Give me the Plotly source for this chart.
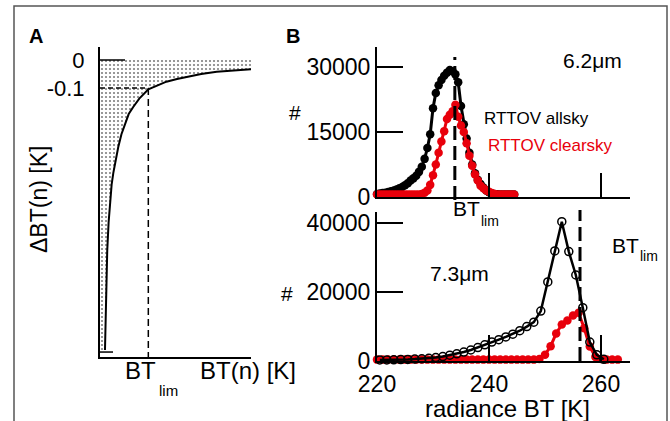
import plotly.graph_objects as go

W, H = 670, 421
FONT = "Liberation Sans, Arial, Helvetica, sans-serif"
RED = "#e8000b"

# ---------------- Panel A (schematic) ----------------
bt_a = [0.033, 0.040, 0.048, 0.057, 0.066, 0.077, 0.088, 0.104, 0.121, 0.142, 0.166, 0.19, 0.22, 0.26, 0.32, 0.38, 0.44, 0.51, 0.574, 0.67, 0.773, 0.88, 1.0]
dbt_a = [-1.036, -0.857, -0.679, -0.58, -0.50, -0.445, -0.404, -0.355, -0.311, -0.265, -0.225, -0.193, -0.168, -0.138, -0.105, -0.09, -0.0775, -0.068, -0.06, -0.05, -0.042, -0.037, -0.033]
bt_lim_a = 0.32
dbt_lim_a = -0.1

# ---------------- Panel B top: 6.2 um ----------------
x_top = [220 + 0.5 * i for i in range(50)]
allsky_62 = [700, 800, 900, 1000, 1150, 1300, 1500, 1750, 2000, 2300, 2700, 3200,
             3800, 4300, 4900, 5800, 7000, 8800, 11300, 14500, 20500, 24000, 25800, 27000,
             28000, 28700, 29300, 29000, 28300, 26500, 21000, 16800, 13500, 10200, 7500, 5500,
             4000, 3000, 2200, 1500, 1100, 800, 700, 650, 600, 600, 600, 600,
             600, 600]
clearsky_62 = [600] * 16 + [700, 1000, 1500, 2800, 5000, 7500, 10200, 12800, 15200, 18000,
                            19000, 19800, 21300, 18500, 16500, 15000, 12400, 9500, 7200, 5200,
                            3800, 2600, 2000, 1500, 1200, 900, 700] + [600] * 7
btlim_62 = 233.9

# ---------------- Panel B bottom: 7.3 um ----------------
x_bot_all = [220.5 + 1.25 * i for i in range(33)]
allsky_73 = [300, 300, 350, 400, 450, 550, 650, 800, 1000, 1300,
             1700, 2100, 2600, 3200, 3900, 4700, 5500, 6200, 7000, 7800,
             8800, 10000, 11300, 14500, 23000, 32000, 40500, 31800, 25000, 15500,
             5500, 1800, 500]
x_bot_clr = [220 + i for i in range(44)]
clearsky_73 = [400] * 29 + [600, 1800, 4300, 8000, 10600, 11800, 13200, 14000, 9500, 4200,
                            1200, 600, 400, 400, 400]
btlim_73 = 256.25


def px(x):
    return x / W


def py(y):
    return 1 - y / H


fig = go.Figure()

# Panel A stipple region
poly_x = [0, 1] + bt_a[::-1] + [0, 0]
poly_y = [0, 0] + dbt_a[::-1] + [dbt_a[0], 0]
fig.add_trace(go.Scatter(x=poly_x, y=poly_y, xaxis="x", yaxis="y", mode="lines",
                         line=dict(width=0, color="rgba(0,0,0,0)"), fill="toself",
                         fillcolor="white",
                         fillpattern=dict(shape=".", size=4, solidity=0.22, fgcolor="black", bgcolor="white"),
                         hoverinfo="skip", showlegend=False))
fig.add_trace(go.Scatter(x=bt_a, y=dbt_a, xaxis="x", yaxis="y", mode="lines",
                         line=dict(color="black", width=2), showlegend=False))

# Panel B top
fig.add_trace(go.Scatter(x=x_top, y=allsky_62, xaxis="x2", yaxis="y2", mode="lines+markers",
                         line=dict(color="black", width=3), marker=dict(color="black", size=8.5),
                         cliponaxis=False, showlegend=False))
fig.add_trace(go.Scatter(x=x_top, y=clearsky_62, xaxis="x2", yaxis="y2", mode="lines+markers",
                         line=dict(color=RED, width=3), marker=dict(color=RED, size=8.5),
                         cliponaxis=False, showlegend=False))

# Panel B bottom
fig.add_trace(go.Scatter(x=x_bot_clr, y=clearsky_73, xaxis="x3", yaxis="y3", mode="lines+markers",
                         line=dict(color=RED, width=3), marker=dict(color=RED, size=8.5),
                         cliponaxis=False, showlegend=False))
fig.add_trace(go.Scatter(x=x_bot_all, y=allsky_73, xaxis="x3", yaxis="y3", mode="lines+markers",
                         line=dict(color="black", width=2.5),
                         marker=dict(symbol="circle-open", color="black", size=8, line=dict(width=1.5)),
                         cliponaxis=False, showlegend=False))

axA_y = [py(357), py(47)]
axB1_y = [py(197), py(47)]
axB2_y = [py(361), py(212)]
top_max = (197 - 47) / 65 * 15000
bot_max = (361 - 212) / 68.8 * 20000
xmax = 220 + (630 - 377) / 5.6

fontA = dict(family=FONT, size=22, color="black")
fontB = dict(family=FONT, size=23, color="black")
common = dict(automargin=False, showgrid=False, zeroline=False, showline=True,
              linecolor="black", linewidth=2)

fig.update_layout(
    width=W, height=H, margin=dict(l=0, r=0, t=0, b=0, autoexpand=False),
    paper_bgcolor="white", plot_bgcolor="rgba(0,0,0,0)",
    font=dict(family=FONT, color="black"),
    xaxis=dict(domain=[px(100), px(251)], range=[0, 1], anchor="y", showticklabels=False, ticks="", **common),
    yaxis=dict(domain=axA_y, range=[-(357 - 60) / 280, 13 / 280], anchor="x", ticks="",
               tickvals=[0, -0.1], ticktext=["0", "-0.1"], tickfont=fontA, ticklabelstandoff=9, **common),
    xaxis2=dict(domain=[px(377), px(630)], range=[220, xmax], anchor="y2", showticklabels=False,
                ticks="inside", ticklen=24, tickwidth=2, tickcolor="black", tickvals=[240, 260], **common),
    yaxis2=dict(domain=axB1_y, range=[0, top_max], anchor="x2", ticks="inside", ticklen=26, tickwidth=2,
                tickcolor="black", tickvals=[0, 15000, 30000], ticktext=["0", "15000", "30000"],
                tickfont=fontB, ticklabelstandoff=0, **common),
    xaxis3=dict(domain=[px(377), px(630)], range=[220, xmax], anchor="y3",
                ticks="inside", ticklen=26, tickwidth=2, tickcolor="black", tickvals=[220, 240, 260],
                ticktext=["220", "240", "260"], tickfont=fontB, ticklabelstandoff=1, **common),
    yaxis3=dict(domain=axB2_y, range=[0, bot_max], anchor="x3", ticks="inside", ticklen=26, tickwidth=2,
                tickcolor="black", tickvals=[0, 20000, 40000], ticktext=["0", "20000", "40000"],
                tickfont=fontB, ticklabelstandoff=0, **common),
)

shapes = []
# outer frame
shapes.append(dict(type="rect", xref="paper", yref="paper", x0=px(14), x1=px(667), y0=-0.05, y1=py(6),
                   line=dict(color="#555", width=1.5), fillcolor="rgba(0,0,0,0)", layer="below"))
# panel A ticks and dashed lines
shapes.append(dict(type="line", xref="x", yref="y", x0=0, x1=25 / 151, y0=0, y1=0,
                   line=dict(color="black", width=1.5)))
shapes.append(dict(type="line", xref="x", yref="y", x0=0, x1=13 / 151, y0=dbt_a[0] - 0.007, y1=dbt_a[0] - 0.007,
                   line=dict(color="black", width=1.5)))
shapes.append(dict(type="line", xref="x", yref="y", x0=0, x1=bt_lim_a, y0=dbt_lim_a, y1=dbt_lim_a,
                   line=dict(color="black", width=1.5, dash="5px,3px")))
shapes.append(dict(type="line", xref="x", yref="y", x0=bt_lim_a, x1=bt_lim_a, y0=dbt_lim_a, y1=-(357 - 60) / 280,
                   line=dict(color="black", width=1.5, dash="7px,4px")))
# panel B dashed BT_lim lines
shapes.append(dict(type="line", xref="x2", yref="paper", x0=btlim_62, x1=btlim_62, y0=py(200), y1=py(57),
                   line=dict(color="black", width=3, dash="14px,6px")))
shapes.append(dict(type="line", xref="x3", yref="paper", x0=btlim_73, x1=btlim_73, y0=py(361), y1=py(210),
                   line=dict(color="black", width=3, dash="14px,6px")))
fig.update_layout(shapes=shapes)


def ann(text, x, y, size, color="black", xanchor="center", bold=False, angle=0):
    if bold:
        text = "<b>" + text + "</b>"
    return dict(text=text, x=px(x), y=py(y), xref="paper", yref="paper", showarrow=False,
                xanchor=xanchor, yanchor="middle", textangle=angle,
                font=dict(family=FONT, size=size, color=color))


anns = [
    ann("A", 36, 36, 20, bold=True),
    ann("B", 293, 36, 20, bold=True),
    ann("ΔBT(n) [K]", 39, 200, 23, angle=-90),
    ann("BT", 140, 370, 24),
    ann("lim", 168, 390, 15),
    ann("BT(n) [K]", 248, 370, 24),
    ann("#", 295, 112, 21),
    ann("#", 287, 293, 21),
    ann("6.2μm", 592, 60, 21),
    ann("RTTOV allsky", 536, 118, 17),
    ann("RTTOV clearsky", 550, 145, 17, color=RED),
    ann("BT", 466, 208, 21),
    ann("lim", 490, 221, 14),
    ann("BT", 625, 245, 21),
    ann("lim", 649, 256, 14),
    ann("7.3μm", 459, 273, 21),
    ann("radiance BT [K]", 507, 408, 24),
]
fig.update_layout(annotations=anns)

fig.write_html("out.html")
